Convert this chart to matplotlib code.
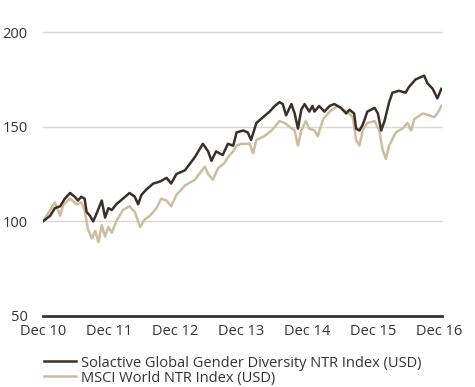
import matplotlib
matplotlib.use('Agg')
import matplotlib.pyplot as plt

plt.rcParams['font.family'] = ['Open Sans', 'DejaVu Sans']

# time in years after Dec 2010, index level
solactive_t = [0.00, 0.11, 0.18, 0.26, 0.33, 0.41, 0.48, 0.53, 0.58, 0.63, 0.66, 0.71, 0.76, 0.81,
               0.89, 0.94, 0.99, 1.04, 1.11, 1.21, 1.31, 1.39, 1.44, 1.49, 1.57, 1.67, 1.77, 1.87,
               1.94, 2.02, 2.15, 2.30, 2.42, 2.50, 2.55, 2.62, 2.72, 2.80, 2.88, 2.93, 3.03, 3.10,
               3.15, 3.23, 3.33, 3.43, 3.51, 3.58, 3.63, 3.68, 3.76, 3.81, 3.86, 3.91, 3.96, 4.03,
               4.08, 4.11, 4.18, 4.26, 4.34, 4.41, 4.51, 4.59, 4.64, 4.71, 4.74, 4.79, 4.84, 4.91,
               5.02, 5.07, 5.12, 5.17, 5.24, 5.29, 5.39, 5.49, 5.54, 5.64, 5.77, 5.82, 5.90, 5.97,
               6.03]
solactive_v = [100, 103, 107, 108, 112, 115, 113, 111, 113, 112, 105, 103, 100, 104,
               111, 102, 107, 106, 109, 112, 115, 113, 109, 114, 117, 120, 121, 123,
               120, 125, 127, 134, 141, 137, 132, 137, 135, 141, 140, 147, 148, 147,
               143, 152, 155, 158, 161, 163, 162, 156, 162, 157, 149, 159, 162, 158,
               161, 158, 161, 158, 161, 162, 160, 157, 159, 157, 149, 148, 151, 158,
               160, 157, 148, 153, 163, 168, 169, 168, 171, 175, 177, 173, 170, 165,
               170]

msci_t = [0.00, 0.18, 0.26, 0.31, 0.41, 0.51, 0.58, 0.63, 0.68, 0.74, 0.79, 0.84, 0.89, 0.94,
          0.99, 1.04, 1.11, 1.21, 1.31, 1.39, 1.47, 1.54, 1.62, 1.72, 1.79, 1.87, 1.94, 2.02,
          2.15, 2.30, 2.45, 2.50, 2.57, 2.65, 2.75, 2.80, 2.88, 2.93, 3.00, 3.13, 3.18, 3.23,
          3.35, 3.46, 3.58, 3.66, 3.73, 3.81, 3.86, 3.91, 3.98, 4.03, 4.11, 4.16, 4.24, 4.34,
          4.46, 4.54, 4.61, 4.69, 4.74, 4.79, 4.84, 4.91, 5.02, 5.09, 5.14, 5.19, 5.24, 5.34,
          5.44, 5.52, 5.57, 5.62, 5.75, 5.85, 5.92, 5.97, 6.03]
msci_v = [100, 110, 103, 109, 112, 109, 110, 106, 96, 91, 95, 89, 98, 92,
          97, 94, 100, 106, 108, 105, 97, 101, 103, 107, 112, 111, 108, 114,
          119, 122, 129, 125, 122, 128, 131, 134, 137, 140, 141, 141, 136, 143,
          145, 148, 153, 152, 150, 148, 140, 148, 153, 149, 148, 145, 154, 158,
          161, 159, 158, 155, 143, 140, 148, 152, 153, 148, 138, 133, 140, 147,
          149, 152, 148, 154, 157, 156, 155, 157, 161]

tick_labels = ['Dec 10', 'Dec 11', 'Dec 12', 'Dec 13', 'Dec 14', 'Dec 15', 'Dec 16']
y_ticks = [50, 100, 150, 200]

dark = '#3b2f28'
light = '#cdbd9e'
text_col = '#333333'

fig = plt.figure(figsize=(4.75, 3.87), dpi=100)
ax = fig.add_axes([0.0905, 0.1835, 0.84, 0.7335])

ax.plot(msci_t, msci_v, color=light, lw=1.8, label='MSCI World NTR Index (USD)', zorder=3)
ax.plot(solactive_t, solactive_v, color=dark, lw=1.8,
        label='Solactive Global Gender Diversity NTR Index (USD)', zorder=4)

ax.set_xlim(0, 6.04)
ax.set_ylim(50, 200)
ax.set_yticks(y_ticks)
ax.set_xticks(range(len(tick_labels)))
ax.set_xticklabels(tick_labels)
ax.tick_params(axis='both', length=0, labelsize=10.5, colors=text_col)
ax.tick_params(axis='y', pad=11)
ax.tick_params(axis='x', pad=6)

for y in [100, 150, 200]:
    ax.axhline(y, color='#d9d9d9', lw=1, zorder=1, clip_on=False)

for s in ['top', 'right', 'left']:
    ax.spines[s].set_visible(False)
ax.spines['bottom'].set_color('#333333')
ax.spines['bottom'].set_linewidth(2)

handles, labels = ax.get_legend_handles_labels()
fig.legend(handles[::-1], labels[::-1], loc='upper left', bbox_to_anchor=(0.077, 0.1),
           frameon=False, fontsize=10.5, handlelength=2.2, handletextpad=0.35,
           labelspacing=0.0, borderpad=0, labelcolor=text_col)

plt.savefig('out.png', dpi=100)
